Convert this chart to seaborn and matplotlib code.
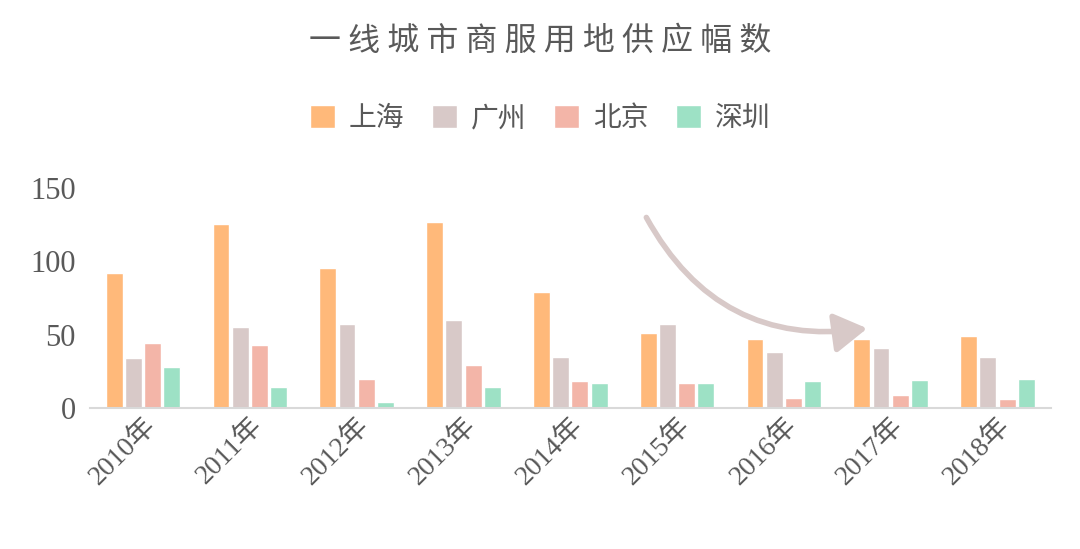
import matplotlib
matplotlib.use("Agg")
import matplotlib.pyplot as plt
import seaborn as sns
import pandas as pd
from matplotlib.patches import FancyArrowPatch

years = ["2010年","2011年","2012年","2013年","2014年","2015年","2016年","2017年","2018年"]
shanghai = [92,125,95,127,79,51,47,47,49]
guangzhou = [34,55,57,60,35,57,38,41,35]
beijing = [44,43,20,29,18,17,7,9,6]
shenzhen = [28,14,4,14,17,17,18,19,20]
cities = ["上海","广州","北京","深圳"]
colors = ["#FFB97A","#D8C9C8","#F3B5A8","#9DE1C5"]

rows = []
for c, vals in zip(cities, [shanghai, guangzhou, beijing, shenzhen]):
    for y, v in zip(years, vals):
        rows.append({"year": y, "city": c, "value": v})
df = pd.DataFrame(rows)

sns.set_theme(style="white")
plt.rcParams['font.family'] = ['Liberation Serif', 'Noto Sans CJK SC']

fig = plt.figure(figsize=(10.8, 5.49), dpi=100)
ax = fig.add_axes([0.083, 0.257, 0.89, 0.401])
sns.barplot(data=df, x="year", y="value", hue="city", palette=colors,
            width=0.72, gap=0.12, ax=ax, legend=True, saturation=1)
ax.set_ylim(0, 150)
ax.set_yticks([0, 50, 100, 150])
ax.tick_params(axis='y', labelsize=22, colors="#595959", length=0, pad=10)
ax.tick_params(axis='x', labelsize=20, colors="#595959", length=0, rotation=45)
for lab in ax.get_xticklabels():
    lab.set_ha("right"); lab.set_rotation_mode("anchor")
ax.set_xlabel(""); ax.set_ylabel("")
for s in ["top", "right", "left"]:
    ax.spines[s].set_visible(False)
ax.spines["bottom"].set_color("#D9D9D9")
ax.spines["bottom"].set_linewidth(1.5)

h, l = ax.get_legend_handles_labels()
ax.legend_.remove()
fig.legend(h, l, loc="center", bbox_to_anchor=(0.5, 0.785), ncol=4, frameon=False,
           handlelength=0.9, handleheight=0.9, columnspacing=1.0,
           handletextpad=0.5, labelcolor="#595959",
           prop={'family': ['Noto Sans CJK SC'], 'size': 20})

fig.text(0.5, 0.925, "一 线 城 市 商 服 用 地 供 应 幅 数", ha="center", va="center",
         fontsize=23, color="#595959", family=['Noto Sans CJK SC'])

arrow = FancyArrowPatch((645/1080, 1-215/549), (870/1080, 1-328/549),
                        transform=fig.transFigure, connectionstyle="arc3,rad=0.35",
                        arrowstyle="-|>,head_length=10,head_width=6",
                        color="#D8C9C8", lw=4, mutation_scale=2)
fig.patches.append(arrow)

fig.savefig("out.png", dpi=100)
